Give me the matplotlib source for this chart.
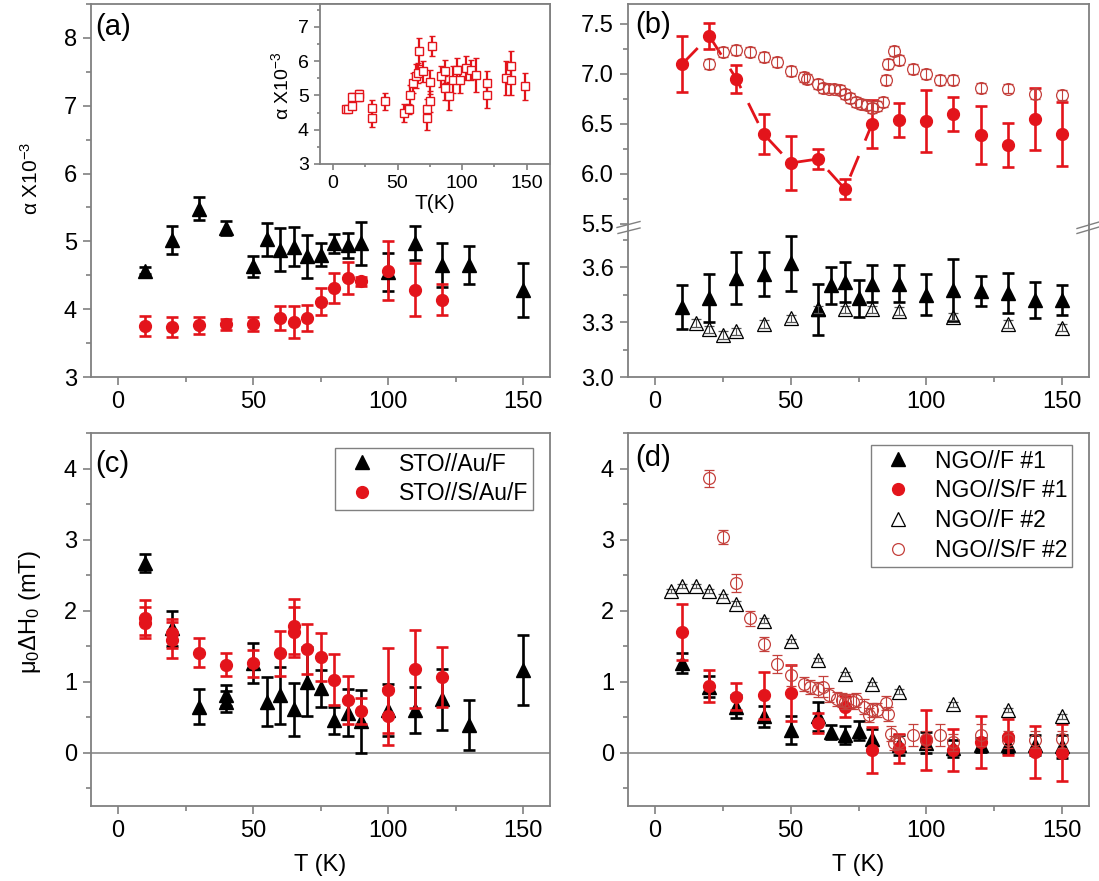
import matplotlib
matplotlib.use('Agg')
import matplotlib.pyplot as plt
from matplotlib.lines import Line2D
from matplotlib.ticker import MultipleLocator, FormatStrFormatter

plt.rcParams['font.family'] = ['Liberation Sans', 'DejaVu Sans']
plt.rcParams['mathtext.fontset'] = 'custom'
plt.rcParams['mathtext.rm'] = 'Liberation Sans'
plt.rcParams['mathtext.it'] = 'Liberation Sans:italic'

# ---------------- data ----------------
# (a) Gilbert damping, STO substrates
Ta_AuF = [10, 20, 30, 40, 50, 55, 60, 65, 70, 75, 80, 85, 90, 100, 110, 120, 130, 150]
a_AuF = [4.57, 5.02, 5.48, 5.20, 4.63, 5.03, 4.88, 4.92, 4.78, 4.80, 4.97, 4.94, 4.97, 4.55, 4.98, 4.65, 4.65, 4.28]
a_AuF_err = [0.05, 0.20, 0.17, 0.10, 0.16, 0.24, 0.31, 0.29, 0.32, 0.17, 0.14, 0.19, 0.32, 0.28, 0.25, 0.32, 0.28, 0.40]

Ta_SAuF = [10, 20, 30, 40, 50, 60, 65, 70, 75, 80, 85, 90, 100, 110, 120]
a_SAuF = [3.75, 3.74, 3.76, 3.78, 3.78, 3.87, 3.81, 3.87, 4.11, 4.31, 4.46, 4.41, 4.57, 4.29, 4.14]
a_SAuF_err = [0.15, 0.15, 0.12, 0.08, 0.10, 0.18, 0.23, 0.19, 0.20, 0.22, 0.23, 0.07, 0.43, 0.39, 0.23]

# (a) inset
Ti = [10, 12, 15, 15, 20, 20, 30, 30, 40, 55, 59, 60, 62, 64, 66, 67, 70, 73, 73, 75, 75, 77,
      84, 87, 87, 90, 93, 96, 98, 103, 107, 111, 119, 119, 134, 138, 138, 149]
ai = [4.61, 4.60, 4.70, 4.96, 5.05, 4.95, 4.63, 4.34, 4.83, 4.49, 4.60, 5.02, 5.37, 5.56, 5.65, 6.29,
      5.70, 4.60, 4.34, 4.83, 5.40, 6.44, 5.56, 5.70, 5.22, 4.98, 5.46, 5.75, 5.46, 5.80, 5.75, 5.60,
      5.37, 5.02, 5.50, 5.85, 5.46, 5.27]
ai_err = [0.06, 0.06, 0.10, 0.10, 0.12, 0.10, 0.25, 0.25, 0.25, 0.25, 0.15, 0.30, 0.30, 0.35, 0.30, 0.40,
          0.30, 0.30, 0.35, 0.30, 0.35, 0.30, 0.30, 0.35, 0.35, 0.40, 0.40, 0.35, 0.40, 0.35, 0.30, 0.50,
          0.35, 0.40, 0.50, 0.45, 0.45, 0.40]

# (b) Gilbert damping, NGO substrates
Tb_SF1 = [10, 20, 30, 40, 50, 60, 70, 80, 90, 100, 110, 120, 130, 140, 150]
b_SF1 = [7.10, 7.38, 6.95, 6.40, 6.11, 6.15, 5.85, 6.50, 6.54, 6.53, 6.60, 6.39, 6.29, 6.55, 6.40]
b_SF1_err = [0.28, 0.13, 0.14, 0.20, 0.27, 0.10, 0.10, 0.24, 0.17, 0.31, 0.17, 0.29, 0.22, 0.31, 0.32]

Tb_SF2 = [20, 25, 30, 35, 40, 45, 50, 55, 56, 60, 62, 64, 66, 68, 70, 72, 74, 76, 78, 80, 82,
          84, 85, 86, 88, 90, 95, 100, 105, 110, 120, 130, 140, 150]
b_SF2 = [7.10, 7.22, 7.24, 7.22, 7.17, 7.12, 7.03, 6.97, 6.955, 6.90, 6.86, 6.855, 6.855, 6.84, 6.80,
         6.76, 6.72, 6.70, 6.69, 6.66, 6.68, 6.72, 6.94, 7.10, 7.23, 7.14, 7.05, 7.00, 6.94, 6.945,
         6.86, 6.855, 6.80, 6.79]
b_SF2_err = [0.05] * len(b_SF2)

Tb_F1 = [10, 20, 30, 40, 50, 60, 65, 70, 75, 80, 90, 100, 110, 120, 130, 140, 150]
b_F1 = [3.38, 3.43, 3.54, 3.56, 3.62, 3.37, 3.50, 3.52, 3.43, 3.51, 3.51, 3.45, 3.475, 3.47, 3.46, 3.42, 3.42]
b_F1_err = [0.12, 0.13, 0.14, 0.12, 0.15, 0.14, 0.10, 0.11, 0.10, 0.10, 0.10, 0.11, 0.17, 0.08, 0.11, 0.10, 0.08]

Tb_F2 = [15, 20, 25, 30, 40, 50, 60, 70, 80, 90, 110, 130, 150]
b_F2 = [3.295, 3.26, 3.23, 3.25, 3.29, 3.32, 3.37, 3.37, 3.37, 3.36, 3.33, 3.29, 3.27]
b_F2_err = [0.02] * len(b_F2)

# (c) inhomogeneous broadening, STO substrates
Tc_AuF = [10, 20, 30, 40, 40, 50, 55, 60, 65, 70, 75, 80, 85, 90, 100, 110, 120, 130, 150]
c_AuF = [2.67, 1.75, 0.65, 0.81, 0.72, 1.26, 0.72, 0.81, 0.61, 1.00, 0.91, 0.46, 0.56, 0.44, 0.60, 0.60, 0.75, 0.39, 1.16]
c_AuF_err = [0.13, 0.25, 0.25, 0.15, 0.15, 0.28, 0.34, 0.40, 0.37, 0.49, 0.26, 0.19, 0.33, 0.44, 0.37, 0.32, 0.43, 0.35, 0.49]

Tc_SAuF = [10, 10, 20, 20, 30, 40, 50, 60, 65, 65, 70, 75, 80, 85, 90, 100, 100, 110, 120]
c_SAuF = [1.90, 1.83, 1.59, 1.68, 1.41, 1.24, 1.26, 1.40, 1.78, 1.70, 1.46, 1.35, 1.03, 0.74, 0.59, 0.88, 0.51, 1.18, 1.07]
c_SAuF_err = [0.25, 0.22, 0.25, 0.20, 0.20, 0.16, 0.19, 0.32, 0.39, 0.35, 0.35, 0.34, 0.36, 0.34, 0.18, 0.60, 0.40, 0.55, 0.42]

# (d) inhomogeneous broadening, NGO substrates
Td_F1 = [10, 20, 30, 40, 50, 60, 65, 70, 75, 80, 90, 100, 110, 120, 130, 140, 150]
d_F1 = [1.26, 0.93, 0.65, 0.51, 0.32, 0.51, 0.29, 0.25, 0.31, 0.19, 0.11, 0.14, 0.06, 0.11, 0.11, 0.11, 0.09]
d_F1_err = [0.14, 0.15, 0.16, 0.15, 0.20, 0.20, 0.10, 0.13, 0.13, 0.15, 0.14, 0.15, 0.12, 0.10, 0.12, 0.14, 0.16]

Td_SF1 = [10, 20, 30, 40, 50, 60, 70, 80, 90, 100, 110, 120, 130, 140, 150]
d_SF1 = [1.70, 0.94, 0.79, 0.81, 0.84, 0.42, 0.65, 0.04, 0.06, 0.18, 0.04, 0.15, 0.22, 0.01, 0.00]
d_SF1_err = [0.40, 0.22, 0.19, 0.33, 0.39, 0.14, 0.15, 0.32, 0.20, 0.42, 0.30, 0.36, 0.25, 0.36, 0.40]

Td_F2 = [6, 10, 15, 20, 25, 30, 40, 50, 60, 70, 80, 90, 110, 130, 150]
d_F2 = [2.28, 2.35, 2.35, 2.28, 2.21, 2.10, 1.86, 1.57, 1.31, 1.11, 0.97, 0.86, 0.68, 0.60, 0.51]
d_F2_err = [0.03] * len(d_F2)

Td_SF2 = [20, 25, 30, 35, 40, 45, 50, 55, 57, 60, 62, 64, 67, 69, 70, 73, 74, 77, 79, 80, 82,
          85, 86, 87, 88, 90, 95, 100, 105, 110, 120, 130, 140, 150]
d_SF2 = [3.86, 3.04, 2.39, 1.89, 1.53, 1.25, 1.09, 0.97, 0.93, 0.89, 0.93, 0.81, 0.76, 0.74, 0.72,
         0.72, 0.74, 0.65, 0.53, 0.60, 0.60, 0.70, 0.55, 0.27, 0.14, 0.15, 0.25, 0.19, 0.25, 0.15,
         0.25, 0.18, 0.18, 0.19]
d_SF2_err = [0.12, 0.10, 0.13, 0.10, 0.10, 0.13, 0.15, 0.10, 0.10, 0.10, 0.15, 0.10, 0.10, 0.10, 0.10,
             0.10, 0.10, 0.10, 0.10, 0.10, 0.10, 0.10, 0.10, 0.10, 0.10, 0.10, 0.15, 0.12, 0.15, 0.12,
             0.15, 0.12, 0.12, 0.12]

# ---------------- styling ----------------
W, H = 1099, 881
fig = plt.figure(figsize=(W / 100, H / 100), dpi=100)


def box(x0, y0, x1, y1):
    return [x0 / W, 1 - y1 / H, (x1 - x0) / W, (y1 - y0) / H]


GRAY = '#808080'
RED = '#e3141b'
RED2 = '#c4403c'
TS = 17


def style(ax, xmaj=50, xmin=25, ymaj=1, ymin=0.5, ts=TS):
    for s in ax.spines.values():
        s.set_color(GRAY)
        s.set_linewidth(1.3)
    ax.xaxis.set_major_locator(MultipleLocator(xmaj))
    ax.xaxis.set_minor_locator(MultipleLocator(xmin))
    ax.yaxis.set_major_locator(MultipleLocator(ymaj))
    ax.yaxis.set_minor_locator(MultipleLocator(ymin))
    ax.tick_params(which='both', direction='out', color=GRAY, width=1.2,
                   labelsize=ts, top=False, right=False, pad=4)
    ax.tick_params(which='major', length=6)
    ax.tick_params(which='minor', length=3.5)


def big(ax, x, y, e, marker, color, ms=9, z=3):
    ax.errorbar(x, y, yerr=e, fmt=marker, color=color, mfc=color, mec=color, ms=ms,
                elinewidth=1.9, capsize=4.6, capthick=1.9, zorder=z)


def small(ax, x, y, e, marker, color, ms=9, z=4, ecolor=None):
    ax.errorbar(x, y, yerr=e, fmt=marker, color=color, mfc='none', mec=color, ms=ms, mew=0.9,
                ecolor=ecolor or color, elinewidth=0.8, capsize=3.5, capthick=0.8, zorder=z)


def panel_label(ax, txt, x, y):
    ax.text(x, y, txt, transform=ax.transAxes, fontsize=21, ha='left', va='top', zorder=10)


def legend(ax, handles, labels, anchor):
    leg = ax.legend(handles, labels, loc='upper right', bbox_to_anchor=anchor,
                    borderaxespad=0, fontsize=16.5, frameon=True, fancybox=False, framealpha=1,
                    labelspacing=0.3, borderpad=0.2, handletextpad=0.6, handlelength=2.0)
    leg.get_frame().set_edgecolor(GRAY)
    leg.get_frame().set_linewidth(1.0)
    return leg


# ---------- (a) ----------
ax_a = fig.add_axes(box(91, 4, 550, 377))
style(ax_a)
ax_a.set_xlim(-10, 160)
ax_a.set_ylim(3, 8.5)
big(ax_a, Ta_AuF, a_AuF, a_AuF_err, '^', 'black', ms=9.5)
big(ax_a, Ta_SAuF, a_SAuF, a_SAuF_err, 'o', RED, ms=8.5)
ax_a.set_ylabel('α X10$^{-3}$', fontsize=15)
ax_a.yaxis.set_label_coords(-0.131, 0.533)
ax_a.yaxis.label.set_va('center')
panel_label(ax_a, '(a)', 0.01, 0.975)

# inset
ax_i = fig.add_axes(box(320, 4, 550, 164))
style(ax_i, ts=14)
ax_i.tick_params(which='major', length=4)
ax_i.tick_params(which='minor', length=2.5)
ax_i.set_xlim(-10, 168)
ax_i.set_ylim(3, 7.67)
ax_i.errorbar(Ti, ai, yerr=ai_err, fmt='s', color=RED, mfc='white', mec=RED, ms=6, mew=1,
              elinewidth=1.6, capsize=2.2, capthick=1.6)
ax_i.set_xlabel('T(K)', fontsize=15)
ax_i.xaxis.set_label_coords(0.5, -0.245)
ax_i.xaxis.label.set_va('center')
ax_i.set_ylabel('α X10$^{-3}$', fontsize=14)
ax_i.yaxis.set_label_coords(-0.17, 0.49)
ax_i.yaxis.label.set_va('center')

# ---------- (b) ----------
ax_bu = fig.add_axes(box(628, 4, 1089, 224))
ax_bl = fig.add_axes(box(628, 224, 1089, 377))
style(ax_bu, ymaj=0.5, ymin=0.25)
style(ax_bl, ymaj=0.3, ymin=0.15)
for ax in (ax_bu, ax_bl):
    ax.set_xlim(-10, 160)
    ax.yaxis.set_major_formatter(FormatStrFormatter('%.1f'))
ax_bu.set_ylim(5.5, 7.7)
ax_bl.set_ylim(3.0, 3.835)
ax_bu.spines['bottom'].set_visible(False)
ax_bl.spines['top'].set_visible(False)
ax_bu.tick_params(which='both', bottom=False, labelbottom=False)

ax_bu.plot(Tb_SF1[:8], b_SF1[:8], ls=(0, (8, 6)), color=RED, lw=2, zorder=2)
big(ax_bu, Tb_SF1, b_SF1, b_SF1_err, 'o', RED, ms=8.5)
small(ax_bu, Tb_SF2, b_SF2, b_SF2_err, 'o', RED2, ms=8.5)
big(ax_bl, Tb_F1, b_F1, b_F1_err, '^', 'black', ms=9.5)
small(ax_bl, Tb_F2, b_F2, b_F2_err, '^', 'black', ms=9.5, ecolor='#555555')
panel_label(ax_bu, '(b)', 0.015, 0.97)

# axis-break marks
for (x0, y0, x1, y1) in [(617, 227.5, 640, 221.5), (618, 233.5, 640, 228),
                         (1077, 228.5, 1099, 222), (1077, 233.5, 1099, 227)]:
    fig.add_artist(Line2D([x0 / W, x1 / W], [1 - y0 / H, 1 - y1 / H], color=GRAY, lw=1.0))

# ---------- (c) ----------
ax_c = fig.add_axes(box(91, 433, 550, 806))
style(ax_c)
ax_c.set_xlim(-10, 160)
ax_c.set_ylim(-0.75, 4.5)
ax_c.axhline(0, color=GRAY, lw=1.1, zorder=1)
big(ax_c, Tc_AuF, c_AuF, c_AuF_err, '^', 'black', ms=9.5)
big(ax_c, Tc_SAuF, c_SAuF, c_SAuF_err, 'o', RED, ms=8.5, z=4)
ax_c.set_ylabel('μ$_0$ΔH$_0$ (mT)', fontsize=17)
ax_c.yaxis.set_label_coords(-0.133, 0.52)
ax_c.yaxis.label.set_va('center')
ax_c.set_xlabel('T (K)', fontsize=17)
ax_c.xaxis.set_label_coords(0.5, -0.158)
ax_c.xaxis.label.set_va('center')
panel_label(ax_c, '(c)', 0.01, 0.955)
hc = [Line2D([], [], marker='^', ls='none', color='black', ms=9.5),
      Line2D([], [], marker='o', ls='none', color=RED, ms=8.5)]
legend(ax_c, hc, ['STO//Au/F', 'STO//S/Au/F'], (0.963, 0.96))

# ---------- (d) ----------
ax_d = fig.add_axes(box(628, 433, 1089, 806))
style(ax_d)
ax_d.set_xlim(-10, 160)
ax_d.set_ylim(-0.75, 4.5)
ax_d.axhline(0, color=GRAY, lw=1.1, zorder=1)
big(ax_d, Td_F1, d_F1, d_F1_err, '^', 'black', ms=9.5)
big(ax_d, Td_SF1, d_SF1, d_SF1_err, 'o', RED, ms=8.5, z=4)
small(ax_d, Td_F2, d_F2, d_F2_err, '^', 'black', ms=9.5, ecolor='#555555', z=5)
small(ax_d, Td_SF2, d_SF2, d_SF2_err, 'o', RED2, ms=8.5, z=5)
ax_d.set_xlabel('T (K)', fontsize=17)
ax_d.xaxis.set_label_coords(0.5, -0.158)
ax_d.xaxis.label.set_va('center')
panel_label(ax_d, '(d)', 0.015, 0.97)
hd = [Line2D([], [], marker='^', ls='none', color='black', ms=9.5),
      Line2D([], [], marker='o', ls='none', color=RED, ms=8.5),
      Line2D([], [], marker='^', ls='none', color='black', mfc='none', mew=0.9, ms=9.5),
      Line2D([], [], marker='o', ls='none', color=RED2, mfc='none', mew=0.9, ms=8.5)]
legend(ax_d, hd, ['NGO//F #1', 'NGO//S/F #1', 'NGO//F #2', 'NGO//S/F #2'], (0.963, 0.968))

fig.savefig('out.png', dpi=100)
